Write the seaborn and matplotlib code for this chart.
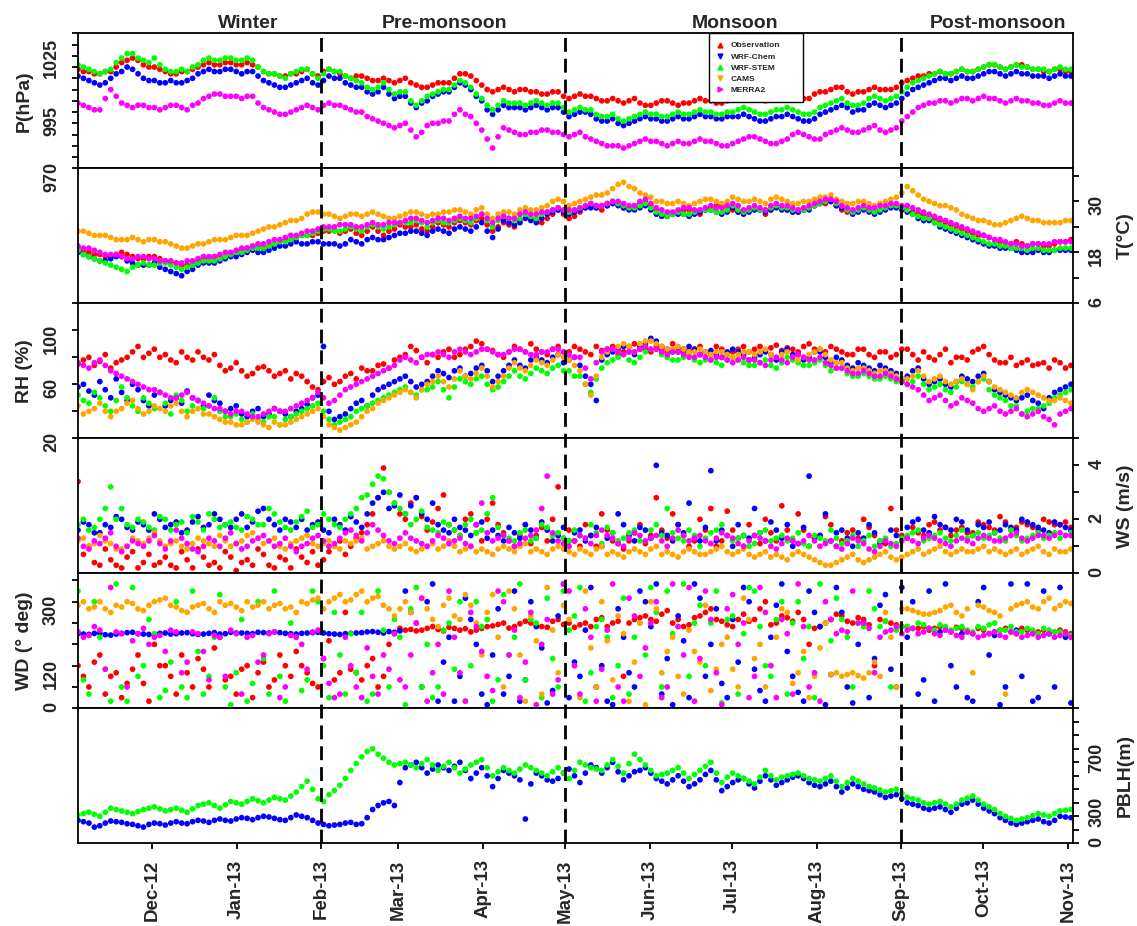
import numpy as np
import pandas as pd
import matplotlib
matplotlib.use("Agg")
import matplotlib.pyplot as plt
import matplotlib.dates as mdates
from matplotlib.lines import Line2D
import seaborn as sns

# ---------------- data (~2-day sampling: main + mid points) -------------
dates = pd.date_range("2012-11-04", "2013-11-02", periods=92)
dates_mid = pd.DatetimeIndex(dates[:-1].values + (dates[1:].values - dates[:-1].values) / 2)

sources = ["Observation", "WRF-Chem", "WRF-STEM", "CAMS", "MERRA2"]
colors = {"Observation": "#FF0000", "WRF-Chem": "#0000FF", "WRF-STEM": "#00FF00",
          "CAMS": "#FFA500", "MERRA2": "#FF00FF"}
legend_markers = {"Observation": "^", "WRF-Chem": "v", "WRF-STEM": "^", "CAMS": "v", "MERRA2": ">"}

season_names = ["Winter", "Pre-monsoon", "Monsoon", "Post-monsoon"]
season_breaks = ["2013-02-01", "2013-05-01", "2013-09-01"]

# ---- Pressure (hPa)
P_obs = [1014, 1013, 1012, 1013, 1017, 1019, 1016, 1015, 1013, 1012,
         1013, 1015, 1017, 1016, 1017, 1016, 1016, 1013, 1012, 1011,
         1012, 1014, 1011, 1014, 1012, 1010, 1011, 1009, 1010, 1008,
         1010, 1007, 1006, 1008, 1008, 1012, 1011, 1007, 1004, 1006,
         1004, 1005, 1004, 1003, 1004, 1001, 1003, 1002, 1000, 1001,
         999, 1001, 998, 999, 1000, 998, 999, 1001, 1000, 999,
         1001, 1003, 1002, 1000, 1002, 1003, 1002, 1001, 1004, 1005,
         1006, 1003, 1004, 1006, 1005, 1006, 1009, 1011, 1012, 1013,
         1012, 1014, 1013, 1015, 1016, 1014, 1016, 1015, 1014, 1013,
         1014, 1013]
P_obs_mid = [1013, 1012, 1013, 1015, 1018, 1018, 1015, 1014, 1012, 1013,
             1014, 1016, 1016, 1017, 1016, 1017, 1015, 1012, 1011, 1012,
             1013, 1012, 1013, 1013, 1011, 1011, 1010, 1009, 1009, 1009,
             1008, 1006, 1007, 1008, 1010, 1012, 1009, 1005, 1005, 1005,
             1005, 1004, 1003, 1004, 1002, 1002, 1002, 1001, 1000, 1000,
             1000, 999, 998, 1000, 999, 999, 1000, 1000, 999, 1000,
             1002, 1002, 1001, 1001, 1003, 1002, 1001, 1003, 1004, 1006,
             1004, 1004, 1005, 1005, 1005, 1008, 1010, 1011, 1012, 1012,
             1013, 1013, 1014, 1016, 1015, 1015, 1016, 1014, 1013, 1014,
             1013]
P_wrfchem = [1011, 1009, 1007, 1010, 1013, 1014, 1010, 1009, 1008, 1008,
             1009, 1012, 1014, 1013, 1014, 1012, 1013, 1009, 1007, 1006,
             1008, 1010, 1007, 1011, 1010, 1007, 1006, 1003, 1006, 1001,
             1002, 997, 1000, 1003, 1004, 1008, 1005, 1000, 994, 998,
             997, 996, 998, 996, 997, 993, 995, 994, 991, 992,
             989, 991, 993, 992, 991, 993, 992, 994, 993, 992,
             993, 994, 992, 991, 993, 994, 992, 991, 994, 996,
             998, 995, 996, 999, 997, 999, 1003, 1006, 1008, 1010,
             1009, 1011, 1010, 1012, 1013, 1011, 1013, 1012, 1011, 1010,
             1012, 1011]
P_wrfchem_mid = [1010, 1008, 1008, 1012, 1015, 1012, 1009, 1008, 1009, 1008,
                 1010, 1013, 1013, 1014, 1013, 1013, 1011, 1008, 1006, 1007,
                 1009, 1008, 1009, 1010, 1008, 1006, 1004, 1004, 1003, 1002,
                 999, 999, 1002, 1004, 1006, 1007, 1002, 996, 996, 997,
                 997, 997, 997, 997, 995, 994, 995, 992, 991, 990,
                 990, 992, 992, 991, 992, 992, 993, 993, 992, 993,
                 993, 993, 991, 992, 993, 993, 991, 992, 995, 997,
                 997, 996, 998, 998, 998, 1001, 1005, 1007, 1009, 1010,
                 1010, 1010, 1011, 1013, 1012, 1012, 1012, 1011, 1011, 1011,
                 1011]
P_wrfstem = [1016, 1014, 1012, 1014, 1019, 1021, 1018, 1019, 1014, 1013,
             1013, 1016, 1019, 1018, 1019, 1018, 1018, 1013, 1012, 1010,
             1013, 1014, 1010, 1014, 1013, 1010, 1008, 1005, 1008, 1003,
             1004, 998, 1002, 1004, 1005, 1009, 1006, 1001, 996, 1000,
             999, 998, 1000, 998, 999, 995, 997, 996, 993, 994,
             991, 993, 995, 994, 993, 995, 994, 996, 995, 994,
             995, 997, 995, 994, 996, 997, 995, 994, 997, 999,
             1001, 998, 999, 1002, 1000, 1002, 1006, 1009, 1011, 1013,
             1012, 1014, 1013, 1015, 1016, 1014, 1016, 1015, 1014, 1013,
             1015, 1014]
P_wrfstem_mid = [1015, 1013, 1013, 1017, 1021, 1019, 1017, 1016, 1013, 1014,
                 1015, 1018, 1018, 1019, 1018, 1019, 1015, 1012, 1011, 1012,
                 1014, 1012, 1012, 1013, 1011, 1009, 1006, 1006, 1005, 1004,
                 1000, 1000, 1003, 1005, 1007, 1008, 1003, 998, 998, 999,
                 999, 999, 999, 999, 997, 996, 996, 994, 993, 992,
                 992, 994, 994, 993, 994, 994, 995, 995, 994, 995,
                 996, 996, 994, 995, 996, 996, 994, 995, 998, 1000,
                 999, 998, 1001, 1001, 1001, 1004, 1008, 1010, 1012, 1012,
                 1013, 1013, 1014, 1016, 1015, 1015, 1015, 1014, 1014, 1014,
                 1014]
P_merra2 = [999, 997, 996, 1005, 999, 997, 998, 997, 997, 998,
            996, 999, 1002, 1003, 1002, 1001, 1002, 997, 995, 994,
            996, 998, 996, 999, 998, 996, 995, 992, 990, 988,
            990, 984, 989, 990, 991, 996, 993, 987, 979, 988,
            986, 985, 986, 987, 986, 984, 986, 983, 981, 980,
            979, 981, 983, 982, 980, 982, 981, 983, 982, 980,
            981, 983, 984, 982, 981, 983, 986, 984, 983, 986,
            988, 986, 987, 989, 986, 988, 993, 997, 999, 1000,
            999, 1001, 1000, 1002, 1001, 999, 1001, 1000, 999, 998,
            1000, 999]
P_merra2_mid = [998, 996, 1001, 1002, 998, 998, 997, 996, 998, 997,
                998, 1001, 1003, 1002, 1002, 1002, 999, 996, 994, 995,
                997, 997, 998, 998, 997, 995, 993, 991, 989, 989,
                987, 986, 990, 991, 994, 994, 990, 983, 984, 987,
                985, 986, 987, 986, 985, 985, 984, 982, 980, 980,
                980, 982, 982, 981, 981, 981, 982, 982, 981, 980,
                982, 984, 983, 981, 982, 985, 985, 983, 985, 987,
                987, 986, 988, 987, 987, 991, 995, 998, 999, 1000,
                1000, 1001, 1001, 1001, 1000, 1000, 1000, 999, 998, 999,
                999]

# ---- Temperature (deg C)
T_obs = [19, 18, 17.5, 17, 18, 17, 16.5, 17, 16, 15.5,
         15, 16, 16.5, 17, 17.5, 18.5, 19, 19, 20, 21,
         21.5, 22, 22.5, 23, 22.5, 23.5, 22, 24, 22, 23.5,
         24, 24.5, 23, 25, 24, 25.5, 24.5, 26, 23, 25,
         24, 27, 25.5, 26, 28, 26, 27.5, 29, 28, 30,
         28.5, 29, 30, 28, 26.5, 27.5, 28, 27, 28.5, 29,
         28, 27.5, 28.5, 27, 29, 28, 27.5, 28.5, 29.5, 30,
         28, 27.5, 28.5, 27.5, 28.5, 29, 28, 27, 26.5, 25.5,
         24.5, 23.5, 22.5, 22, 21, 20, 20.5, 19.5, 20, 19.5,
         20.5, 21]
T_obs_mid = [18.5, 17.5, 17, 17.5, 17.5, 16.5, 17, 16.5, 15.5, 15,
             15.5, 16.5, 17, 17, 18, 19, 19.5, 19.5, 20.5, 21,
             22, 22, 23, 23.5, 23, 22.5, 23, 23, 23, 24.5,
             24, 23.5, 24, 24.5, 25, 25, 25.5, 24.5, 24, 24.5,
             25.5, 26, 25, 27, 27, 26.5, 28.5, 28.5, 29, 29.5,
             28.5, 29.5, 29, 27, 27, 28, 27.5, 28, 29, 28.5,
             27.5, 28, 28, 28, 28.5, 27.5, 28, 29, 29.5, 29,
             27.5, 28, 28, 28, 29, 28.5, 27.5, 27, 26, 25,
             24, 23, 22, 21.5, 20.5, 20, 20, 20, 19.5, 20,
             20.5]
T_wrfchem = [18, 17, 16, 16.5, 17, 15.5, 15, 15.5, 14, 13,
             13.5, 15, 15.5, 16, 17, 17.5, 18.5, 18, 19, 19.5,
             20.5, 20, 20.5, 20, 19.5, 21, 20, 21.5, 21, 22,
             22.5, 23, 22, 23.5, 22.5, 24, 23, 25, 21.5, 25.5,
             24.5, 26, 25, 27, 28, 27, 28, 28.5, 29, 29.5,
             28.5, 28, 29, 27, 26.5, 27, 26.5, 27.5, 28, 27,
             28.5, 27, 28, 27.5, 28.5, 28, 27.5, 28, 29.5, 30,
             28.5, 27, 28, 27, 28, 28.5, 27.5, 26, 25.5, 24,
             23, 22, 21, 20, 19.5, 19, 18.5, 18, 18.5, 18,
             18.5, 18.5]
T_wrfchem_mid = [17.5, 16.5, 16, 17, 16, 15, 15, 14.5, 13.5, 12.5,
                 14, 15.5, 15.5, 16.5, 17, 18, 18, 18.5, 19.5, 20,
                 20, 20.5, 20, 20, 20, 20.5, 21, 21, 21.5, 22.5,
                 23, 22.5, 23, 23, 23.5, 23.5, 24, 23, 23.5, 25,
                 25, 25.5, 26, 27.5, 27.5, 27.5, 28.5, 28.5, 29, 29,
                 28, 28.5, 28, 26.5, 27, 27, 27, 28, 27.5, 27.5,
                 27.5, 27.5, 28, 28, 28, 27.5, 28, 29, 30, 29,
                 28, 27.5, 27.5, 27.5, 28.5, 28, 27, 25.5, 25, 23.5,
                 22.5, 21.5, 20.5, 19.5, 19, 19, 18, 18, 18, 18.5,
                 18.5]
T_wrfstem = [18.5, 17, 16, 15, 14, 14.5, 15.5, 15, 15.5, 14.5,
             14.5, 15.5, 16, 16.5, 17.5, 18, 19, 19, 20, 20.5,
             21.5, 22, 23, 23.5, 23, 24, 23, 24.5, 23.5, 24.5,
             25, 25.5, 24, 25.5, 25, 26, 25, 27, 24, 26.5,
             25.5, 27, 26, 27.5, 28.5, 27.5, 28.5, 29.5, 29, 30,
             29, 28.5, 29.5, 27.5, 26.5, 27.5, 27, 28, 28, 27.5,
             29, 27.5, 28.5, 28, 29, 28.5, 28, 28.5, 29.5, 30.5,
             29, 27.5, 28.5, 27.5, 28.5, 29, 28, 26.5, 26, 24.5,
             23.5, 22.5, 21.5, 20.5, 20, 19.5, 19, 18.5, 19, 18.5,
             19, 19]
T_wrfstem_mid = [17.5, 16.5, 15.5, 14.5, 13.5, 15, 15, 15.5, 15, 14,
                 15, 16, 16, 17, 18, 18.5, 19, 19.5, 20.5, 21,
                 22, 22.5, 23.5, 23, 23.5, 23.5, 24, 24, 24, 25,
                 25, 25, 25, 25, 25.5, 25.5, 26, 25.5, 25.5, 26,
                 26, 26.5, 27, 28, 28, 28, 29, 29, 29.5, 29.5,
                 28.5, 29, 28.5, 27, 27, 27, 27.5, 28, 27.5, 28,
                 28, 28, 28, 28.5, 28.5, 28, 28, 29, 30, 29.5,
                 28, 28, 28, 28, 29, 28.5, 27, 26, 25, 24,
                 23, 22, 21, 20, 19.5, 19, 19, 19, 18.5, 18.5,
                 19]
T_cams = [23, 22.5, 22, 21.5, 21, 21.5, 20.5, 21, 20.5, 19.5,
          19, 20, 20.5, 21, 21.5, 22, 22.5, 23.5, 24, 25,
          25.5, 27, 27.5, 27, 26, 27, 26.5, 27.5, 26.5, 26,
          27, 27.5, 26.5, 27, 27.5, 28, 27, 28.5, 26, 27.5,
          27, 28.5, 28, 29, 30.5, 29, 30, 31, 31.5, 33,
          34.5, 33, 31.5, 30, 29.5, 30, 29, 30, 30.5, 29.5,
          31, 30, 30.5, 29.5, 31, 30, 29.5, 30, 31, 31.5,
          30, 29.5, 30, 29, 30, 31, 33.5, 31.5, 30, 29,
          28.5, 27, 26, 25.5, 24.5, 25, 26, 26, 25.5, 25,
          25, 25.5]
T_cams_mid = [23, 22, 22, 21, 21, 21, 21, 20.5, 20, 19,
              19.5, 20, 21, 21, 22, 22, 23, 24, 24.5, 25.5,
              26, 27.5, 27, 26.5, 26.5, 27, 27, 27, 26, 26.5,
              27.5, 27, 27, 27.5, 28, 27.5, 28, 27, 27, 27.5,
              28, 28, 28.5, 30, 30, 29.5, 30.5, 31.5, 32, 34,
              33.5, 32, 31, 30, 29.5, 29.5, 29.5, 30.5, 30, 30,
              30.5, 30, 30, 30.5, 30.5, 29.5, 30, 30.5, 31, 30.5,
              29.5, 30, 29.5, 29.5, 30.5, 32, 32.5, 30.5, 29.5, 29,
              28, 26.5, 25.5, 25, 24.5, 25.5, 26.5, 25.5, 25, 25,
              25.5]
T_merra2 = [19.5, 19, 18, 17.5, 17, 16.5, 17, 16.5, 16, 15.5,
            16, 16.5, 17, 17.5, 18, 19, 19.5, 20, 21, 21.5,
            22, 23, 23.5, 24, 24.5, 24.5, 24, 25, 24.5, 25,
            25.5, 26, 25, 26, 25.5, 26.5, 26, 27, 25, 26.5,
            26, 27.5, 27, 27.5, 28.5, 28, 28.5, 29.5, 29, 30,
            29.5, 29, 30.5, 28.5, 27.5, 28, 28.5, 28, 29, 28.5,
            29.5, 28, 29, 28, 29.5, 29, 28, 29, 30, 30.5,
            29, 28, 29, 28.5, 29, 29.5, 29, 28, 27, 26,
            25, 24, 23, 22, 21, 20.5, 20, 19.5, 20, 20,
            20.5, 20.5]
T_merra2_mid = [19, 18.5, 17.5, 17.5, 16.5, 17, 16.5, 16, 16, 15.5,
                16, 17, 17, 18, 18.5, 19, 20, 20.5, 21, 22,
                22.5, 23, 24, 24, 24.5, 24, 24.5, 24.5, 25, 25,
                26, 25.5, 25.5, 26, 26, 26, 26.5, 26, 26, 26,
                27, 27, 27.5, 28, 28, 28, 29, 29, 29.5, 30,
                29, 30, 29.5, 28, 27.5, 28.5, 28, 28.5, 28.5, 29,
                29, 28.5, 28.5, 29, 29, 28.5, 28.5, 29.5, 30.5, 30,
                28.5, 28.5, 28.5, 29, 29.5, 29, 28.5, 27.5, 26.5, 25.5,
                24.5, 23.5, 22.5, 21.5, 21, 20, 19.5, 20, 20, 20.5,
                20.5]

# ---- Relative humidity (%)
RH_obs = [75, 80, 77, 72, 78, 84, 80, 86, 82, 76,
          80, 84, 78, 74, 72, 70, 68, 73, 66, 70,
          68, 62, 56, 65, 62, 68, 72, 70, 75, 78,
          82, 85, 76, 80, 86, 82, 88, 90, 85, 80,
          88, 84, 86, 82, 88, 84, 86, 82, 85, 88,
          84, 90, 86, 88, 84, 87, 85, 88, 82, 86,
          84, 88, 86, 85, 89, 87, 84, 90, 86, 88,
          84, 82, 86, 80, 84, 82, 86, 78, 80, 82,
          76, 80, 84, 88, 78, 76, 74, 78, 75, 72,
          76, 74]
RH_obs_mid = [78, 74, 82, 76, 80, 88, 83, 80, 78, 84,
              78, 80, 82, 70, 76, 66, 72, 70, 68, 64,
              66, 58, 62, 60, 66, 64, 70, 74, 72, 80,
              88, 80, 82, 84, 80, 86, 92, 86, 82, 84,
              86, 90, 84, 86, 84, 88, 84, 88, 86, 82,
              88, 86, 84, 86, 90, 84, 86, 84, 88, 82,
              86, 84, 88, 87, 85, 86, 88, 86, 84, 86,
              82, 86, 82, 84, 80, 86, 82, 84, 78, 86,
              80, 78, 86, 82, 76, 80, 76, 74, 76, 78,
              72]
RH_wrfchem = [58, 55, 62, 50, 54, 60, 48, 52, 44, 50,
              55, 48, 52, 46, 42, 38, 40, 36, 42, 38,
              40, 45, 52, 40, 36, 42, 48, 52, 58, 62,
              66, 58, 62, 70, 65, 72, 68, 74, 62, 70,
              78, 72, 80, 76, 82, 78, 74, 60, 78, 84,
              88, 82, 90, 92, 86, 84, 88, 82, 85, 80,
              86, 82, 80, 84, 78, 86, 82, 80, 84, 76,
              78, 72, 74, 70, 72, 68, 66, 72, 60, 64,
              58, 66, 62, 68, 56, 52, 48, 52, 46, 50,
              56, 60]
RH_wrfchem_mid = [60, 52, 56, 64, 48, 56, 44, 54, 48, 46,
                  50, 44, 48, 40, 44, 36, 42, 38, 40, 36,
                  42, 50, 88, 34, 38, 46, 44, 56, 60, 64,
                  62, 60, 66, 68, 70, 66, 72, 70, 66, 74,
                  74, 78, 78, 80, 76, 80, 66, 48, 82, 86,
                  84, 88, 94, 88, 84, 86, 86, 84, 82, 84,
                  84, 78, 82, 82, 84, 82, 78, 84, 80, 80,
                  74, 76, 72, 74, 70, 64, 70, 64, 62, 60,
                  62, 64, 66, 62, 54, 50, 50, 48, 42, 54,
                  58]
RH_wrfstem = [52, 46, 50, 40, 58, 44, 50, 42, 46, 52,
              40, 48, 44, 40, 36, 34, 38, 32, 36, 34,
              38, 42, 46, 34, 32, 36, 42, 46, 50, 54,
              58, 52, 56, 62, 50, 64, 60, 66, 56, 62,
              70, 64, 72, 68, 74, 70, 66, 54, 72, 78,
              82, 76, 84, 86, 80, 78, 82, 76, 78, 74,
              80, 76, 74, 78, 72, 80, 76, 74, 78, 70,
              72, 66, 68, 64, 66, 62, 60, 66, 56, 60,
              54, 62, 58, 64, 52, 48, 44, 40, 42, 46,
              52, 56]
RH_wrfstem_mid = [48, 54, 44, 48, 50, 40, 46, 54, 38, 48,
                  44, 42, 50, 36, 38, 32, 34, 36, 30, 36,
                  40, 44, 40, 30, 34, 40, 44, 48, 52, 56,
                  54, 56, 58, 56, 58, 62, 64, 60, 58, 66,
                  66, 68, 70, 72, 70, 66, 60, 64, 76, 80,
                  78, 80, 86, 82, 78, 80, 78, 78, 76, 78,
                  78, 74, 76, 74, 76, 78, 74, 76, 74, 72,
                  68, 66, 66, 64, 64, 62, 62, 60, 58, 56,
                  58, 60, 62, 56, 50, 44, 38, 42, 44, 50,
                  54]
RH_cams = [44, 40, 46, 36, 42, 48, 38, 44, 40, 46,
           36, 42, 38, 34, 32, 30, 34, 30, 32, 30,
           34, 38, 42, 30, 26, 30, 36, 42, 48, 52,
           56, 50, 60, 66, 58, 70, 64, 72, 58, 66,
           76, 70, 78, 74, 82, 78, 70, 52, 80, 86,
           90, 84, 92, 90, 86, 88, 84, 86, 82, 84,
           80, 84, 82, 86, 80, 84, 78, 82, 86, 78,
           76, 70, 72, 68, 70, 66, 64, 70, 62, 66,
           60, 64, 56, 66, 58, 54, 50, 56, 52, 48,
           50, 46]
RH_cams_mid = [38, 42, 40, 40, 46, 42, 40, 42, 44, 40,
               40, 38, 36, 32, 30, 32, 32, 28, 30, 32,
               36, 40, 36, 28, 28, 32, 40, 46, 50, 54,
               54, 56, 62, 62, 64, 66, 68, 66, 62, 72,
               72, 74, 76, 78, 80, 74, 60, 66, 84, 88,
               88, 90, 92, 88, 86, 86, 84, 84, 84, 82,
               82, 84, 84, 82, 82, 80, 80, 84, 82, 76,
               72, 72, 70, 70, 68, 64, 66, 66, 64, 62,
               62, 60, 62, 62, 56, 52, 54, 54, 50, 48,
               48]
RH_merra2 = [76, 72, 78, 70, 66, 62, 58, 56, 52, 50,
             54, 48, 44, 42, 38, 40, 36, 38, 42, 40,
             44, 48, 54, 46, 52, 58, 62, 66, 70, 74,
             80, 76, 82, 84, 80, 86, 82, 86, 84, 82,
             86, 84, 82, 84, 86, 82, 80, 64, 84, 86,
             82, 84, 88, 86, 82, 84, 80, 82, 78, 80,
             76, 80, 78, 74, 80, 76, 82, 78, 80, 74,
             72, 68, 70, 66, 68, 64, 60, 56, 48, 52,
             44, 50, 46, 40, 44, 38, 42, 36, 40, 34,
             38, 42]
RH_merra2_mid = [74, 76, 74, 68, 64, 60, 56, 54, 50, 52,
                 50, 46, 42, 40, 40, 38, 36, 40, 40, 42,
                 46, 50, 50, 48, 56, 60, 64, 68, 72, 78,
                 78, 80, 82, 82, 84, 84, 84, 86, 82, 84,
                 86, 82, 84, 86, 84, 80, 72, 76, 86, 84,
                 84, 86, 86, 84, 84, 82, 80, 80, 80, 78,
                 78, 78, 76, 78, 78, 80, 80, 78, 76, 72,
                 70, 68, 68, 66, 66, 62, 58, 52, 50, 48,
                 46, 48, 42, 42, 40, 40, 38, 38, 36, 30,
                 40]

# ---- Wind speed (m/s)
WS_obs = [3.4, 1.0, 0.3, 0.5, 0.2, 0.8, 0.4, 0.3, 0.6, 0.2,
          0.5, 0.9, 0.3, 0.2, 0.6, 0.4, 0.3, 0.7, 0.2, 0.5,
          0.9, 0.4, 0.3, 0.8, 1.2, 1.0, 1.5, 2.2, 3.9, 2.6,
          2.0, 2.8, 1.6, 2.4, 1.8, 1.4, 2.2, 1.2, 2.6, 1.5,
          1.0, 1.8, 1.4, 1.2, 3.2, 1.6, 1.0, 1.4, 2.2, 1.2,
          0.9, 1.5, 1.1, 2.8, 1.3, 1.8, 1.0, 2.0, 2.4, 1.2,
          1.6, 1.0, 1.4, 2.0, 1.2, 1.6, 2.2, 1.0, 1.4, 1.8,
          1.2, 1.6, 2.0, 1.4, 1.1, 1.6, 1.3, 1.5, 1.8, 1.6,
          1.4, 1.7, 1.5, 1.8, 1.6, 1.9, 1.7, 1.8, 1.6, 1.9,
          1.8, 1.7]
WS_obs_mid = [0.7, 0.4, 0.9, 0.3, 0.6, 0.2, 0.7, 0.4, 0.3, 0.8,
              0.2, 0.6, 0.4, 0.8, 0.1, 0.5, 0.9, 0.3, 0.6, 0.2,
              0.6, 0.8, 0.5, 1.0, 0.7, 1.3, 1.8, 2.8, 3.0, 2.2,
              2.6, 2.1, 1.9, 2.9, 1.6, 2.0, 1.5, 2.0, 1.8, 1.2,
              1.4, 1.1, 1.7, 2.0, 1.3, 1.2, 1.8, 1.0, 1.6, 1.1,
              1.2, 1.8, 1.4, 1.6, 2.2, 1.4, 1.2, 1.6, 1.0, 2.3,
              1.3, 1.8, 1.1, 1.5, 2.5, 1.2, 1.6, 1.3, 2.1, 1.0,
              1.5, 1.3, 1.7, 1.2, 2.4, 1.4, 1.7, 1.4, 1.9, 1.7,
              1.6, 1.5, 1.9, 1.7, 2.1, 1.6, 1.9, 1.7, 2.0, 1.8,
              1.9]
WS_wrfchem = [1.6, 1.8, 1.5, 1.7, 2.0, 1.6, 1.8, 2.2, 1.7, 1.9,
              1.6, 2.1, 1.8, 2.0, 1.7, 2.2, 1.9, 2.4, 1.8, 2.0,
              1.7, 1.6, 1.9, 1.5, 1.8, 2.1, 1.7, 2.6, 3.0, 2.5,
              2.2, 2.8, 2.0, 1.8, 1.5, 1.7, 1.4, 1.9, 1.6, 1.2,
              1.5, 1.8, 1.3, 1.6, 1.4, 1.2, 1.6, 1.4, 1.0, 1.5,
              1.8, 1.2, 1.6, 4.0, 1.4, 1.8, 2.6, 1.2, 3.8, 1.6,
              1.0, 1.4, 2.4, 1.2, 1.6, 1.8, 1.1, 3.6, 1.4, 1.2,
              1.6, 1.0, 1.3, 1.5, 1.2, 1.4, 1.7, 2.0, 1.5, 1.8,
              1.6, 1.9, 1.4, 1.7, 1.5, 1.8, 1.6, 1.9, 1.7, 1.5,
              1.8, 1.6]
WS_wrfchem_mid = [1.9, 1.5, 1.8, 2.1, 1.7, 1.9, 1.6, 2.0, 1.8, 1.5,
                  1.9, 1.7, 2.2, 1.8, 2.0, 1.7, 2.3, 2.0, 1.6, 1.9,
                  2.0, 1.8, 1.6, 2.0, 1.6, 1.9, 2.2, 2.8, 2.4, 2.9,
                  2.5, 2.2, 2.6, 1.6, 2.0, 1.6, 1.8, 1.3, 1.4, 1.7,
                  1.3, 1.6, 1.9, 1.2, 1.7, 1.5, 1.2, 1.7, 1.3, 2.2,
                  1.4, 1.7, 1.3, 1.5, 1.2, 1.5, 1.3, 1.7, 1.2, 1.4,
                  1.8, 1.3, 1.5, 1.9, 1.3, 1.0, 1.7, 1.3, 2.2, 1.5,
                  1.3, 1.5, 1.8, 1.1, 1.6, 1.3, 1.9, 1.6, 2.1, 1.7,
                  2.0, 1.6, 1.8, 1.9, 1.6, 1.7, 2.0, 1.8, 1.6, 1.9,
                  1.7]
WS_wrfstem = [1.8, 1.6, 2.0, 3.2, 2.4, 1.7, 1.9, 1.6, 2.0, 1.8,
              1.5, 1.9, 2.2, 1.7, 1.9, 1.6, 2.0, 1.8, 2.2, 1.7,
              1.9, 2.3, 1.8, 2.0, 1.7, 2.2, 2.8, 3.3, 3.5, 2.6,
              2.2, 2.0, 1.7, 1.5, 1.8, 1.4, 2.0, 1.6, 2.8, 1.4,
              1.2, 1.6, 1.3, 1.7, 1.5, 1.2, 1.4, 1.8, 1.1, 1.5,
              1.3, 1.6, 1.2, 1.8, 2.4, 1.3, 1.6, 1.0, 1.5, 1.8,
              1.2, 1.4, 1.1, 1.6, 1.3, 1.2, 1.5, 1.0, 1.3, 1.6,
              1.1, 1.4, 1.2, 1.0, 1.3, 1.1, 1.4, 1.6, 1.3, 1.5,
              1.2, 1.6, 1.4, 1.3, 1.5, 1.2, 1.4, 1.3, 1.5, 1.4,
              1.3, 1.5]
WS_wrfstem_mid = [2.0, 1.7, 2.4, 2.0, 1.8, 2.0, 1.7, 2.1, 1.6, 1.9,
                  2.1, 1.6, 2.0, 1.8, 1.7, 2.1, 1.8, 2.4, 1.9, 1.6,
                  2.1, 1.7, 2.2, 1.8, 2.0, 2.4, 2.9, 3.6, 3.0, 2.4,
                  1.8, 2.3, 1.6, 1.9, 1.6, 1.8, 1.5, 2.2, 1.7, 1.3,
                  1.5, 1.2, 1.8, 1.4, 1.3, 1.6, 1.3, 1.5, 1.7, 1.2,
                  1.5, 1.2, 1.6, 1.4, 1.5, 1.2, 1.4, 1.3, 1.6, 1.4,
                  1.3, 1.0, 1.5, 1.2, 1.4, 1.3, 1.1, 1.4, 1.2, 1.3,
                  1.2, 1.0, 1.4, 1.2, 1.0, 1.3, 1.5, 1.2, 1.4, 1.3,
                  1.4, 1.3, 1.5, 1.4, 1.3, 1.6, 1.2, 1.4, 1.3, 1.5,
                  1.4]
WS_cams = [1.2, 1.0, 1.4, 1.1, 0.9, 1.3, 1.1, 1.5, 1.0, 1.2,
           0.9, 1.3, 1.1, 1.4, 1.0, 1.2, 1.5, 1.1, 1.3, 0.9,
           1.2, 1.4, 1.0, 1.2, 0.9, 1.1, 1.3, 1.0, 1.2, 0.9,
           1.1, 0.8, 1.0, 0.9, 1.2, 0.8, 1.0, 0.9, 0.7, 1.0,
           0.8, 1.1, 0.9, 0.7, 1.0, 0.8, 0.9, 0.7, 1.0, 0.8,
           0.6, 0.9, 0.7, 1.0, 0.8, 0.6, 0.9, 0.7, 0.8, 1.0,
           0.7, 0.9, 0.6, 0.8, 0.7, 0.5, 0.8, 0.6, 0.4, 0.3,
           0.5, 0.7, 0.4, 0.6, 0.8, 0.5, 0.7, 0.9, 0.8, 1.0,
           0.7, 0.9, 0.8, 1.0, 0.9, 0.7, 0.9, 0.8, 1.0, 0.7,
           0.8, 0.9]
WS_cams_mid = [1.3, 1.1, 1.2, 0.9, 1.0, 1.2, 1.3, 1.2, 1.1, 1.0,
               1.1, 1.2, 1.0, 1.2, 1.1, 1.4, 1.3, 1.2, 1.0, 1.1,
               1.3, 1.1, 1.1, 1.0, 1.2, 1.2, 0.9, 1.1, 1.0, 1.0,
               0.9, 0.9, 1.1, 1.0, 1.0, 0.9, 0.8, 0.8, 0.9, 0.9,
               1.0, 0.8, 0.8, 0.9, 0.9, 0.7, 0.8, 0.9, 0.7, 0.7,
               0.8, 0.8, 0.9, 0.7, 0.7, 0.8, 0.8, 0.7, 0.9, 0.8,
               0.8, 0.7, 0.7, 0.6, 0.6, 0.7, 0.7, 0.5, 0.3, 0.4,
               0.6, 0.5, 0.5, 0.7, 0.6, 0.6, 0.8, 0.7, 0.9, 0.8,
               0.8, 0.8, 0.9, 0.8, 0.8, 0.8, 0.7, 0.9, 0.8, 0.9,
               0.8]
WS_merra2 = [1.3, 0.9, 1.1, 1.5, 0.8, 1.2, 1.0, 1.4, 0.9, 1.6,
             1.1, 0.8, 1.3, 1.0, 1.5, 0.9, 1.2, 1.4, 1.0, 1.3,
             0.8, 1.1, 1.4, 1.0, 1.3, 1.6, 1.2, 1.8, 1.4, 1.1,
             1.5, 1.2, 1.0, 1.4, 1.1, 1.3, 1.0, 2.6, 1.2, 1.4,
             1.0, 1.3, 1.6, 3.6, 1.2, 1.0, 1.4, 1.1, 1.6, 1.3,
             1.0, 1.5, 1.2, 1.4, 1.0, 1.6, 1.2, 1.4, 1.1, 1.5,
             1.3, 1.0, 1.4, 1.2, 0.9, 1.3, 1.1, 1.4, 1.0, 1.2,
             0.9, 1.3, 1.1, 0.8, 1.2, 1.0, 1.3, 1.1, 1.4, 1.2,
             1.0, 1.3, 1.1, 1.4, 1.2, 1.3, 1.5, 1.2, 1.4, 1.3,
             1.5, 1.4]
WS_merra2_mid = [1.0, 1.2, 1.3, 1.0, 1.0, 1.1, 1.2, 1.1, 1.2, 1.3,
                 0.9, 1.0, 1.2, 1.3, 1.1, 1.0, 1.3, 1.2, 1.1, 1.0,
                 1.0, 1.3, 1.2, 1.1, 1.5, 1.4, 1.5, 1.6, 1.2, 1.3,
                 1.3, 1.1, 1.2, 1.3, 1.2, 1.1, 1.8, 1.5, 1.3, 1.2,
                 1.1, 1.4, 2.4, 1.5, 1.1, 1.2, 1.3, 1.4, 1.4, 1.1,
                 1.3, 1.4, 1.3, 1.2, 1.3, 1.4, 1.3, 1.2, 1.3, 1.4,
                 1.1, 1.2, 1.3, 1.0, 1.1, 1.2, 1.2, 1.2, 1.1, 1.0,
                 1.1, 1.2, 0.9, 1.0, 1.1, 1.2, 1.2, 1.3, 1.3, 1.1,
                 1.2, 1.2, 1.3, 1.3, 1.2, 1.4, 1.3, 1.3, 1.4, 1.4,
                 1.4]

# ---- Wind direction (deg)
WD_obs = [120, 60, 150, 90, 30, 110, 70, 180, 120, 40,
          100, 140, 60, 200, 90, 110, 30, 130, 80, 120,
          160, 100, 60, 190, 100, 110, 80, 140, 90, 210,
          220, 218, 225, 222, 228, 220, 215, 225, 232, 240,
          230, 245, 235, 228, 250, 240, 235, 230, 255, 240,
          90, 250, 260, 245, 275, 250, 235, 260, 280, 245,
          230, 265, 250, 300, 240, 255, 270, 180, 230, 250,
          260, 240, 250, 120, 245, 235, 230, 225, 220, 230,
          215, 225, 210, 220, 215, 225, 210, 220, 215, 210,
          220, 210]
WD_obs_mid = [90, 130, 40, 100, 70, 150, 20, 120, 90, 150,
              60, 110, 170, 80, 40, 120, 100, 60, 150, 90,
              120, 70, 140, 80, 270, 100, 120, 60, 180, 225,
              222, 220, 230, 218, 225, 224, 220, 230, 236, 226,
              238, 240, 230, 245, 236, 228, 240, 250, 230, 245,
              240, 255, 250, 265, 240, 230, 255, 270, 250, 235,
              250, 245, 280, 235, 260, 245, 250, 225, 240, 265,
              245, 255, 235, 250, 240, 230, 225, 230, 225, 220,
              228, 215, 225, 210, 220, 215, 225, 210, 220, 215,
              215]
WD_wrfchem = [210, 208, 212, 206, 211, 214, 209, 207, 212, 210,
              213, 208, 211, 209, 214, 212, 210, 213, 215, 211,
              209, 212, 214, 210, 208, 211, 213, 216, 212, 214,
              330, 240, 300, 20, 200, 90, 250, 40, 150, 40,
              330, 80, 230, 15, 260, 30, 90, 340, 120, 10,
              200, 60, 300, 350, 140, 260, 30, 310, 180, 70,
              250, 340, 110, 20, 290, 160, 45, 330, 230, 95,
              270, 15, 240, 140, 320, 60, 200, 40, 330, 215,
              120, 210, 20, 340, 205, 60, 220, 350, 30, 210,
              340, 15]
WD_wrfchem_mid = [209, 211, 207, 209, 213, 210, 208, 211, 209, 212,
                  210, 209, 213, 210, 212, 211, 214, 212, 213, 210,
                  211, 213, 212, 209, 210, 212, 215, 214, 216, 218,
                  270, 60, 350, 130, 20, 310, 180, 10, 280, 90,
                  20, 300, 170, 50, 350, 130, 220, 60, 20, 280,
                  100, 330, 230, 40, 10, 190, 350, 90, 280, 30,
                  130, 300, 50, 200, 350, 90, 20, 270, 10, 340,
                  60, 180, 30, 290, 110, 340, 300, 80, 20, 350,
                  60, 30, 300, 150, 10, 350, 90, 20, 330, 60,
                  200]
WD_wrfstem = [330, 40, 200, 20, 60, 340, 120, 210, 50, 300,
              30, 160, 90, 320, 10, 250, 70, 140, 330, 20,
              200, 80, 300, 30, 150, 210, 270, 40, 220, 250,
              10, 340, 180, 60, 240, 300, 120, 230, 20, 320,
              200, 80, 240, 310, 60, 220, 340, 100, 250, 30,
              310, 200, 150, 270, 330, 230, 90, 290, 240, 15,
              260, 210, 330, 120, 250, 40, 300, 230, 350, 190,
              250, 60, 230, 280, 245, 220, 230, 240, 225, 235,
              220, 230, 215, 225, 240, 220, 215, 225, 210, 220,
              215, 205]
WD_wrfstem_mid = [80, 300, 110, 350, 20, 90, 250, 30, 130, 60,
                  330, 40, 200, 60, 100, 20, 300, 40, 90, 240,
                  50, 330, 120, 270, 40, 100, 20, 330, 60, 200,
                  280, 60, 30, 220, 110, 20, 300, 250, 80, 150,
                  350, 250, 30, 140, 330, 260, 20, 230, 200, 120,
                  40, 240, 340, 60, 210, 350, 240, 120, 330, 250,
                  40, 340, 230, 90, 300, 240, 140, 30, 240, 310,
                  200, 240, 330, 230, 60, 230, 225, 235, 220, 230,
                  225, 220, 230, 235, 220, 230, 215, 220, 225, 215,
                  210]
WD_cams = [290, 280, 300, 270, 285, 295, 275, 300, 310, 285,
           270, 290, 280, 300, 295, 275, 285, 300, 290, 280,
           270, 295, 310, 300, 320, 305, 330, 310, 290, 260,
           300, 240, 280, 230, 310, 250, 290, 150, 320, 60,
           280, 20, 190, 340, 100, 250, 30, 170, 300, 80,
           210, 130, 10, 280, 160, 90, 220, 130, 50, 180,
           110, 310, 140, 60, 200, 270, 100, 30, 170, 95,
           90, 100, 85, 130, 270, 60, 280, 270, 265, 275,
           290, 260, 100, 285, 270, 40, 290, 300, 280, 310,
           290, 295]
WD_cams_mid = [300, 285, 280, 290, 300, 280, 290, 305, 290, 275,
               285, 295, 270, 290, 285, 300, 290, 280, 295, 285,
               300, 305, 280, 310, 300, 320, 300, 315, 280, 280,
               270, 310, 250, 290, 260, 320, 240, 270, 200, 330,
               150, 260, 40, 220, 290, 120, 330, 60, 190, 260,
               20, 240, 300, 100, 200, 40, 160, 290, 110, 200,
               60, 250, 180, 120, 280, 70, 160, 90, 240, 100,
               95, 92, 100, 90, 200, 280, 275, 265, 270, 285,
               270, 280, 290, 275, 260, 280, 295, 285, 300, 280,
               300]
WD_merra2 = [215, 205, 220, 340, 210, 190, 225, 200, 160, 215,
             130, 210, 80, 200, 220, 40, 205, 150, 215, 60,
             200, 110, 220, 70, 40, 120, 30, 90, 150, 210,
             60, 240, 20, 180, 330, 100, 270, 160, 50, 300,
             220, 130, 10, 250, 80, 330, 40, 200, 110, 350,
             20, 260, 170, 300, 60, 230, 340, 140, 250, 10,
             320, 240, 90, 270, 30, 210, 350, 60, 20, 250,
             220, 330, 240, 100, 215, 230, 220, 210, 225, 205,
             215, 200, 210, 205, 215, 200, 210, 205, 200, 210,
             205, 200]
WD_merra2_mid = [200, 230, 110, 215, 60, 210, 180, 205, 220, 100,
                 215, 160, 205, 90, 210, 200, 130, 210, 30, 205,
                 180, 215, 140, 30, 200, 60, 170, 40, 110, 80,
                 150, 310, 100, 40, 200, 20, 230, 90, 330, 150,
                 30, 270, 180, 40, 350, 120, 280, 20, 220, 60,
                 310, 90, 240, 30, 350, 150, 20, 330, 100, 280,
                 180, 30, 340, 120, 250, 40, 230, 100, 300, 210,
                 215, 240, 225, 200, 220, 210, 225, 215, 210, 220,
                 205, 215, 200, 210, 205, 215, 200, 210, 205, 200,
                 210]

# ---- Planetary boundary layer height (m)
PBLH_wrfchem = [170, 150, 130, 165, 155, 140, 120, 150, 135, 160,
                145, 170, 155, 180, 165, 190, 175, 200, 185, 170,
                210, 190, 150, 130, 140, 155, 145, 250, 300, 280,
                560, 600, 520, 580, 540, 600, 480, 560, 420, 540,
                500, 180, 520, 470, 480, 550, 450, 580, 520, 600,
                470, 530, 560, 480, 440, 500, 420, 470, 540, 390,
                450, 480, 410, 500, 430, 470, 500, 450, 420, 460,
                380, 440, 400, 380, 340, 360, 300, 280, 250, 270,
                230, 290, 320, 260, 220, 170, 140, 160, 180, 150,
                200, 190]
PBLH_wrfchem_mid = [160, 120, 150, 160, 145, 130, 140, 145, 150, 150,
                    160, 165, 170, 170, 180, 185, 190, 195, 175, 190,
                    200, 170, 140, 135, 150, 140, 190, 280, 310, 450,
                    580, 560, 550, 560, 570, 540, 520, 500, 480, 520,
                    470, 440, 500, 460, 520, 500, 520, 560, 560, 530,
                    500, 540, 520, 460, 470, 460, 440, 510, 470, 420,
                    470, 440, 460, 470, 450, 490, 480, 430, 440, 420,
                    410, 420, 390, 360, 350, 330, 290, 260, 260, 250,
                    260, 300, 290, 240, 190, 150, 150, 170, 160, 170,
                    195]
PBLH_wrfstem = [210, 230, 200, 260, 240, 220, 250, 270, 240, 260,
                230, 280, 300, 260, 310, 290, 330, 300, 340, 320,
                380, 460, 330, 360, 430, 540, 640, 700, 630, 580,
                600, 560, 620, 540, 600, 520, 580, 620, 500, 560,
                520, 580, 540, 500, 560, 480, 600, 560, 540, 620,
                520, 660, 580, 500, 520, 560, 480, 540, 600, 450,
                520, 480, 440, 540, 470, 500, 520, 480, 460, 500,
                420, 480, 440, 410, 380, 400, 340, 320, 290, 310,
                270, 320, 350, 290, 250, 200, 170, 190, 220, 200,
                240, 250]
PBLH_wrfstem_mid = [220, 215, 230, 250, 230, 235, 260, 255, 250, 245,
                    255, 290, 280, 285, 300, 310, 315, 320, 330, 350,
                    420, 400, 310, 390, 480, 590, 680, 660, 600, 590,
                    580, 590, 580, 570, 560, 550, 600, 560, 530, 540,
                    550, 560, 520, 530, 520, 540, 580, 550, 580, 570,
                    590, 620, 540, 510, 540, 520, 510, 570, 520, 490,
                    500, 460, 490, 500, 490, 510, 500, 470, 480, 460,
                    450, 460, 420, 395, 390, 370, 330, 300, 300, 290,
                    290, 335, 320, 270, 220, 185, 180, 205, 210, 220,
                    245]

panels = [
    dict(series={"Observation": (P_obs, P_obs_mid), "WRF-Chem": (P_wrfchem, P_wrfchem_mid),
                 "WRF-STEM": (P_wrfstem, P_wrfstem_mid), "MERRA2": (P_merra2, P_merra2_mid)},
         ylim=(970, 1030), ticks=list(range(970, 1031, 5)), labels=[970, 995, 1025],
         side="left", ylabel="P(hPa)"),
    dict(series={"Observation": (T_obs, T_obs_mid), "WRF-Chem": (T_wrfchem, T_wrfchem_mid),
                 "WRF-STEM": (T_wrfstem, T_wrfstem_mid), "CAMS": (T_cams, T_cams_mid),
                 "MERRA2": (T_merra2, T_merra2_mid)},
         ylim=(6, 37.8), ticks=list(range(6, 37, 6)), labels=[6, 18, 30],
         side="right", ylabel="T(°C)"),
    dict(series={"Observation": (RH_obs, RH_obs_mid), "WRF-Chem": (RH_wrfchem, RH_wrfchem_mid),
                 "WRF-STEM": (RH_wrfstem, RH_wrfstem_mid), "CAMS": (RH_cams, RH_cams_mid),
                 "MERRA2": (RH_merra2, RH_merra2_mid)},
         ylim=(20, 120), ticks=list(range(20, 121, 20)), labels=[20, 60, 100],
         side="left", ylabel="RH (%)"),
    dict(series={"Observation": (WS_obs, WS_obs_mid), "WRF-Chem": (WS_wrfchem, WS_wrfchem_mid),
                 "WRF-STEM": (WS_wrfstem, WS_wrfstem_mid), "CAMS": (WS_cams, WS_cams_mid),
                 "MERRA2": (WS_merra2, WS_merra2_mid)},
         ylim=(0, 5), ticks=list(range(0, 6)), labels=[0, 2, 4],
         side="right", ylabel="WS (m/s)"),
    dict(series={"Observation": (WD_obs, WD_obs_mid), "WRF-Chem": (WD_wrfchem, WD_wrfchem_mid),
                 "WRF-STEM": (WD_wrfstem, WD_wrfstem_mid), "CAMS": (WD_cams, WD_cams_mid),
                 "MERRA2": (WD_merra2, WD_merra2_mid)},
         ylim=(0, 380), ticks=list(range(0, 361, 60)), labels=[0, 120, 300],
         side="left", ylabel="WD (° deg)"),
    dict(series={"WRF-Chem": (PBLH_wrfchem, PBLH_wrfchem_mid),
                 "WRF-STEM": (PBLH_wrfstem, PBLH_wrfstem_mid)},
         ylim=(0, 1000), ticks=list(range(0, 1001, 100)), labels=[0, 300, 700],
         side="right", ylabel="PBLH(m)"),
]

# ---------------- style ----------------
sns.set_style("ticks")
plt.rcParams["font.family"] = ["Liberation Sans", "DejaVu Sans"]
plt.rcParams["font.weight"] = "bold"
plt.rcParams["axes.labelweight"] = "bold"
plt.rcParams["axes.linewidth"] = 1.3
plt.rcParams["axes.edgecolor"] = "black"

W, H = 1137, 926
fig, axes = plt.subplots(6, 1, figsize=(W / 100, H / 100), dpi=100, sharex=True,
                         gridspec_kw={"hspace": 0})
fig.subplots_adjust(left=78 / W, right=1073 / W, top=1 - 33.3 / H, bottom=1 - 843.3 / H)

xlim = (pd.Timestamp("2012-11-04"), pd.Timestamp("2013-11-02 18:00"))

for ax, p in zip(axes, panels):
    frames = []
    for name, (vals, mids) in p["series"].items():
        frames.append(pd.DataFrame({"date": dates, "value": vals, "source": name}))
        frames.append(pd.DataFrame({"date": dates_mid, "value": mids, "source": name}))
    df = pd.concat(frames, ignore_index=True)
    present = list(p["series"].keys())
    sns.scatterplot(data=df, x="date", y="value", hue="source", hue_order=present,
                    palette=colors, s=17, linewidth=0, marker="o", legend=False,
                    ax=ax, zorder=2)
    ax.set_xlim(*xlim)
    ax.set_ylim(*p["ylim"])
    ax.set_yticks(p["ticks"])
    ax.set_yticklabels([str(t) if t in p["labels"] else "" for t in p["ticks"]])
    ax.set_xlabel("")
    for sp in ax.spines.values():
        sp.set_linewidth(1.3)
        sp.set_color("black")
    if p["side"] == "left":
        ax.tick_params(axis="y", left=True, right=False, labelleft=True, labelright=False,
                       labelrotation=90, length=4.5, width=1.3, pad=8.5, labelsize=13,
                       direction="out", color="black")
        ax.set_ylabel(p["ylabel"], fontsize=14, fontweight="bold")
        ax.yaxis.set_label_coords(-0.0452, 0.5)
    else:
        ax.yaxis.tick_right()
        ax.yaxis.set_label_position("right")
        ax.tick_params(axis="y", left=False, right=True, labelleft=False, labelright=True,
                       labelrotation=90, length=4.5, width=1.3, pad=6.5, labelsize=13,
                       direction="out", color="black")
        ax.set_ylabel(p["ylabel"], fontsize=14, fontweight="bold", rotation=90)
        ax.yaxis.set_label_coords(1.0442, 0.5)
    for lab in ax.get_yticklabels():
        lab.set_fontweight("bold")
    ax.tick_params(axis="x", bottom=False, labelbottom=False, top=False)

# bottom axis dates
axb = axes[-1]
axb.xaxis.set_major_locator(mdates.MonthLocator())
axb.xaxis.set_major_formatter(mdates.DateFormatter("%b-%y"))
axb.tick_params(axis="x", bottom=True, labelbottom=True, labelrotation=90, length=4.5,
                width=1.3, pad=7, labelsize=13.5, direction="out", color="black")
for lab in axb.get_xticklabels():
    lab.set_fontweight("bold")

# season dividers spanning all panels
for d in season_breaks:
    t = pd.Timestamp(d)
    axb.plot([t, t], [0, 6], transform=axb.get_xaxis_transform(), clip_on=False,
             color="black", lw=2, ls=(0, (5, 2.5)), zorder=10)

# season labels
for name, xc in zip(season_names, [248, 445, 735, 998]):
    fig.text(xc / W, 1 - 24 / H, name, ha="center", va="center", fontsize=14,
             fontweight="bold")

# legend
handles = [Line2D([], [], marker=legend_markers[s], color=colors[s], ls="", markersize=3.5)
           for s in sources]
leg = axes[0].legend(handles, sources, loc="upper left",
                     bbox_to_anchor=((709 - 78) / 995, 1.0, 94 / 995, 0), mode="expand",
                     fontsize=6, frameon=True, fancybox=False, edgecolor="black",
                     framealpha=1, borderpad=1.0, labelspacing=0.4, handletextpad=1.0,
                     handlelength=0.6, borderaxespad=0)
leg.get_frame().set_linewidth(1.0)
for txt in leg.get_texts():
    txt.set_fontweight("bold")
leg.set_zorder(20)

fig.savefig("out.png", dpi=100)
